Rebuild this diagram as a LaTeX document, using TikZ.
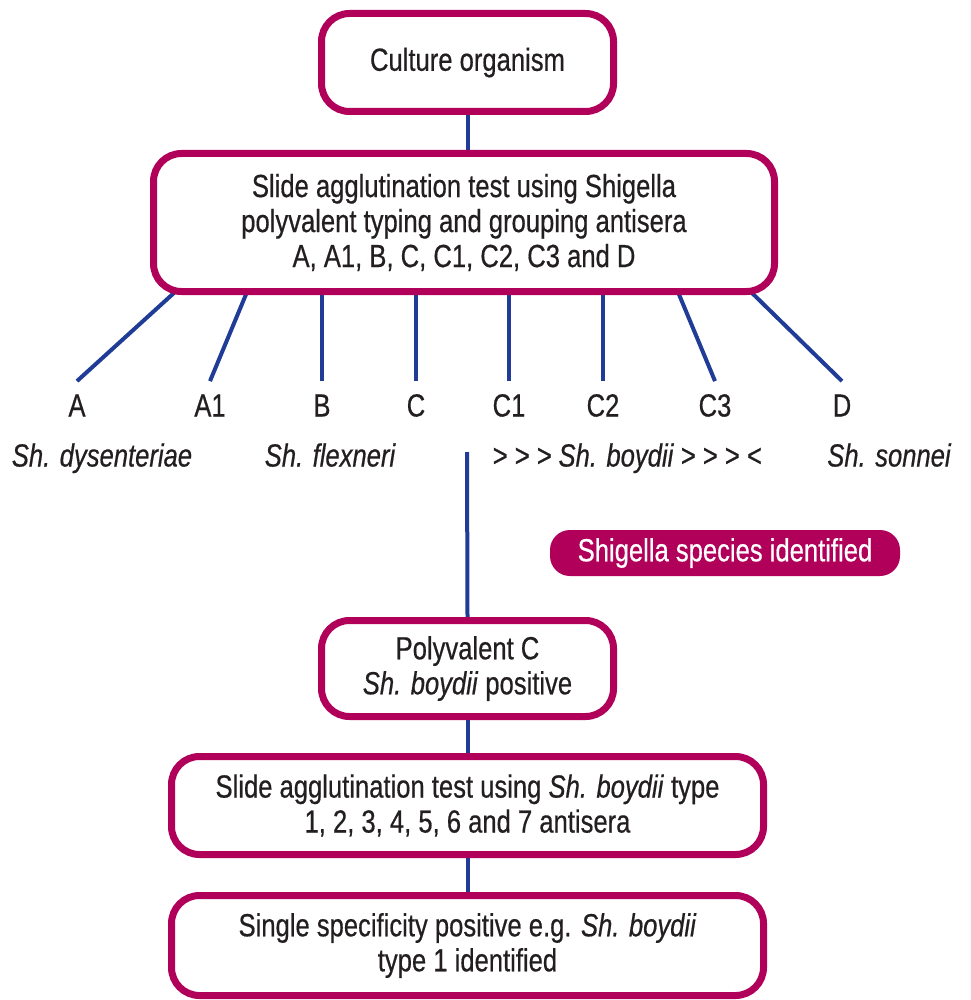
\documentclass[tikz,border=0pt]{standalone}
\usepackage{fontspec}
\setmainfont{Liberation Sans}[FakeStretch=0.8,FakeBold=0.5]
\usepackage{tikz}
\usetikzlibrary{backgrounds}
\definecolor{shmag}{RGB}{176,0,90}
\definecolor{shblue}{RGB}{32,60,150}
\definecolor{shtext}{RGB}{35,31,32}

\begin{document}
\begin{tikzpicture}[x=0.5pt,y=-0.5pt,
        box/.style={draw=shmag,line width=3.5pt,rounded corners=14pt,fill=white,
            align=center,inner sep=0pt,text=shtext,font=\fontsize{16}{17.5}\selectfont},
        link/.style={draw=shblue,line width=2pt},
        grp/.style={inner xsep=0pt,inner ysep=6pt,text height=11.5pt,text depth=0pt,
            text=shtext,font=\fontsize{16}{17.5}\selectfont},
        spec/.style={inner sep=0pt,text height=11.5pt,text depth=0pt,
            text=shtext,font=\fontsize{16}{17.5}\selectfont\itshape}]
            \useasboundingbox (0,0) rectangle (970,1000);
            \node[box,minimum width=146pt,minimum height=49pt] (culture) at (467.5,62.5) {Culture organism};
            \node[box,minimum width=310.5pt,minimum height=69pt] (slide) at (464,222.5)
                {Slide agglutination test using Shigella\\polyvalent typing and grouping antisera\\A, A1, B, C, C1, C2, C3 and D};
            \node[box,minimum width=146pt,minimum height=48pt] (polyC) at (467.5,668.5)
                {Polyvalent C\\\textit{Sh. boydii} positive};
            \node[box,minimum width=296pt,minimum height=49pt] (typing) at (467.5,805.5)
                {Slide agglutination test using \textit{Sh. boydii} type\\1, 2, 3, 4, 5, 6 and 7 antisera};
            \node[box,minimum width=296pt,minimum height=50pt] (single) at (467.5,945.5)
                {Single specificity positive e.g. \textit{Sh. boydii}\\type 1 identified};
            \node[fill=shmag,rounded corners=10pt,minimum width=175pt,minimum height=23pt,inner sep=0pt,
                text=white,font=\fontsize{16}{17}\selectfont] (found) at (725,553) {Shigella species identified};

            \node[grp] (gA) at (77,405) {A};
            \node[grp] (gA1) at (210,405) {A1};
            \node[grp] (gB) at (322,405) {B};
            \node[grp] (gC) at (416,405) {C};
            \node[grp] (gC1) at (509,405) {C1};
            \node[grp] (gC2) at (603,405) {C2};
            \node[grp] (gC3) at (715,405) {C3};
            \node[grp] (gD) at (842,405) {D};

            \node[spec] (dys) at (102,455) {Sh. dysenteriae};
            \node[spec] (flex) at (330,455) {Sh. flexneri};
            \node[spec] (boyd) at (627,455) {> > > Sh. boydii > > > <};
            \node[spec] (son) at (889,455) {Sh. sonnei};

            \coordinate (tA) at (175,292);
            \coordinate (tA1) at (247,292);
            \coordinate (tC3) at (678,292);
            \coordinate (tD) at (751,292);
            \coordinate (cTop) at (467,452);

            \begin{scope}[on background layer]
                \draw[link] (culture.south) -- (culture.south |- slide.north);
                \draw[link] (tA) -- (gA.north);
                \draw[link] (tA1) -- (gA1.north);
                \draw[link] (gB.north |- slide.south) -- (gB.north);
                \draw[link] (gC.north |- slide.south) -- (gC.north);
                \draw[link] (gC1.north |- slide.south) -- (gC1.north);
                \draw[link] (gC2.north |- slide.south) -- (gC2.north);
                \draw[link] (tC3) -- (gC3.north);
                \draw[link] (tD) -- (gD.north);
                \draw[link] (cTop) -- (polyC.north);
                \draw[link] (polyC.south) -- (typing.north);
                \draw[link] (typing.south) -- (single.north);
            \end{scope}
        \end{tikzpicture}
\end{document}
